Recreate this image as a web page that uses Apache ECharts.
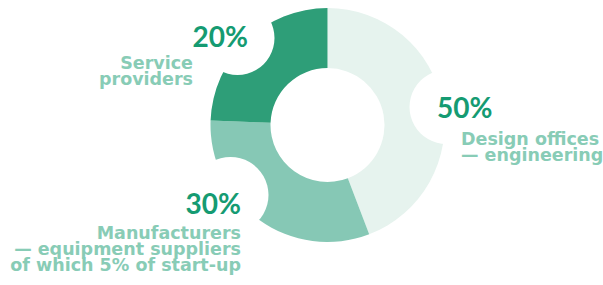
<!DOCTYPE html>
<html><head><meta charset="utf-8">
<script src="https://cdn.jsdelivr.net/npm/echarts@6/dist/echarts.min.js"></script>
<style>html,body{margin:0;padding:0;background:#fff}#c{width:603px;height:285px}</style>
</head><body><div id="c"></div>
<script>
const categories = ['Design offices\n— engineering', 'Manufacturers\n— equipment suppliers\nof which 5% of start-up', 'Service\nproviders'];
const values = [44.2, 31.4, 24.4];
const pctLabels = ['50%', '30%', '20%'];

const colors = ['#e6f3ee', '#86c8b5', '#2e9e78'];
const pctColor = '#159b72';
const txtColor = '#88ccb6';
const PFONT = 'Lato, "Noto Sans", sans-serif';
const LFONT = '"DejaVu Sans", "Noto Sans", sans-serif';

const cx = 327.5, cy = 125;
const chart = echarts.init(document.getElementById('c'), null, {renderer: 'svg'});

function blob(x, y, r) {
  return {type: 'circle', z: 10, shape: {cx: x, cy: y, r: r}, style: {fill: '#fff'}, silent: true};
}
function txt(s, x, y, size, family, color, align, lh, vAlign) {
  return {type: 'text', z: 11, x: x, y: y, style: {
    text: s, fill: color, font: 'bold ' + size + 'px ' + family,
    align: align, verticalAlign: vAlign || 'middle', lineHeight: lh || size
  }, silent: true};
}

chart.setOption({
  animation: false,
  series: [{
    type: 'pie',
    center: [cx, cy],
    radius: [57, 117],
    startAngle: 90,
    clockwise: true,
    label: {show: false},
    labelLine: {show: false},
    itemStyle: {borderWidth: 0},
    emphasis: {disabled: true},
    data: categories.map((c, i) => ({name: c, value: values[i], itemStyle: {color: colors[i]}}))
  }],
  graphic: [
    blob(cx + 119, cy - 18, 37),
    blob(cx - 97, cy + 70, 38),
    blob(cx - 90, cy - 87, 37),
    txt(pctLabels[0], 437, 107, 28, PFONT, pctColor, 'left'),
    txt(categories[0], 461, 131, 17.5, LFONT, txtColor, 'left', 16, 'top'),
    txt(pctLabels[1], 241, 203, 28, PFONT, pctColor, 'right'),
    txt(categories[1], 241, 225, 17.5, LFONT, txtColor, 'right', 16, 'top'),
    txt(pctLabels[2], 248, 36, 28, PFONT, pctColor, 'right'),
    txt(categories[2], 193, 55, 17.5, LFONT, txtColor, 'right', 16, 'top')
  ]
});
</script></body></html>
